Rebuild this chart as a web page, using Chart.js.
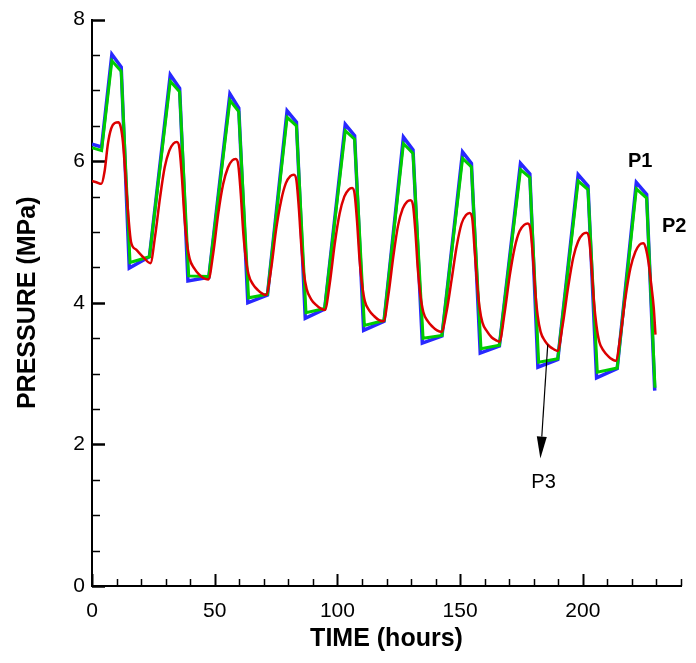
<!DOCTYPE html>
<html>
<head>
<meta charset="utf-8">
<script src="https://cdn.jsdelivr.net/npm/chart.js@4.4.1/dist/chart.umd.min.js"></script>
<style>
    html, body { margin: 0; padding: 0; background: #fff; }
    #contenedor { width: 696px; height: 663px; }
</style>
</head>
<body>
<div id="contenedor"><canvas id="graficoPresion" width="696" height="663"></canvas></div>
<script>
// Serie P1 (azul)
const tiempoP1 = [0, 3.9, 8.1, 11.9, 15.2, 23.4, 31.9, 35.7, 39.1, 47.6, 56.2, 59.8, 63.5, 71.5,
    79.5, 83.3, 86.9, 94.8, 103.2, 107.0, 110.7, 119.0, 126.9, 130.8, 134.6, 142.6, 151.0, 154.6,
    158.2, 166.0, 174.6, 178.4, 181.7, 189.8, 198.1, 202.1, 205.6, 214.0, 221.8, 226.0, 229.3];
const presionP1 = [6.24, 6.20, 7.51, 7.33, 4.49, 4.65, 7.22, 7.03, 4.31, 4.36, 6.95, 6.75, 4.00, 4.11,
    6.71, 6.55, 3.78, 3.91, 6.52, 6.36, 3.61, 3.74, 6.34, 6.16, 3.43, 3.53, 6.13, 5.97,
    3.29, 3.39, 5.97, 5.82, 3.09, 3.20, 5.81, 5.65, 2.94, 3.07, 5.70, 5.53, 2.76];

// Serie P2 (verde)
const tiempoP2 = [0, 3.9, 8.1, 11.9, 15.5, 23.4, 31.9, 35.7, 39.4, 47.6, 56.2, 59.8, 63.8, 71.5,
    79.5, 83.3, 87.2, 94.8, 103.2, 107.0, 111.0, 119.0, 126.9, 130.8, 134.9, 142.6, 151.0, 154.6,
    158.5, 166.0, 174.6, 178.4, 182.0, 189.8, 198.1, 202.1, 205.9, 214.0, 221.8, 226.0, 229.4];
const presionP2 = [6.19, 6.15, 7.42, 7.27, 4.57, 4.65, 7.13, 6.98, 4.38, 4.37, 6.86, 6.70, 4.07, 4.12,
    6.62, 6.50, 3.86, 3.92, 6.43, 6.31, 3.68, 3.75, 6.25, 6.11, 3.50, 3.54, 6.04, 5.92,
    3.35, 3.40, 5.88, 5.77, 3.16, 3.21, 5.72, 5.60, 3.02, 3.08, 5.61, 5.48, 2.80];

// Serie P3 (roja)
const tiempoP3 = [0, 2.0, 3.8, 5.1, 6.5, 7.8, 9.3, 10.8, 11.8, 12.6, 13.9, 14.9, 15.9, 18.0, 21.0, 23.8,
    25.7, 27.7, 29.6, 31.5, 33.2, 34.6, 35.6, 36.6, 37.6, 38.6, 39.8, 41.6, 43.6, 45.4, 47.4,
    49.4, 51.4, 53.4, 55.4, 57.1, 58.6, 59.6, 60.6, 61.6, 62.6, 63.8, 65.6, 67.6, 69.4, 70.9,
    73.0, 75.0, 77.1, 79.0, 80.8, 82.3, 83.3, 84.3, 85.3, 86.3, 87.5, 89.3, 91.3, 93.1, 94.9,
    96.9, 98.9, 100.9, 102.8, 104.6, 106.0, 107.0, 108.0, 109.0, 110.0, 111.2, 113.0, 115.0, 116.8, 118.8,
    120.8, 122.8, 124.7, 126.6, 128.4, 129.8, 130.8, 131.8, 132.8, 133.8, 135.0, 136.8, 138.8, 140.6, 142.4,
    144.5, 146.5, 148.6, 150.6, 152.4, 153.9, 154.9, 155.9, 156.9, 157.9, 159.1, 160.9, 162.9, 164.7, 166.0,
    168.1, 170.2, 172.3, 174.2, 176.1, 177.6, 178.6, 179.6, 180.6, 181.6, 182.8, 184.6, 186.6, 188.4, 189.7,
    191.8, 194.0, 196.1, 198.1, 200.0, 201.5, 202.5, 203.5, 204.5, 205.5, 206.7, 208.5, 210.5, 212.0, 213.4,
    215.4, 217.4, 219.4, 221.4, 223.1, 224.6, 225.6, 226.9, 228.0, 228.9, 229.6];
const presionP3 = [5.72, 5.70, 5.68, 5.85, 6.25, 6.46, 6.54, 6.55, 6.47, 6.27, 5.66, 5.19, 4.86, 4.75, 4.64, 4.56,
    4.94, 5.48, 5.91, 6.15, 6.25, 6.27, 6.19, 5.79, 5.24, 4.87, 4.62, 4.49, 4.40, 4.35, 4.33,
    4.70, 5.25, 5.67, 5.91, 6.01, 6.03, 5.95, 5.55, 5.01, 4.65, 4.40, 4.26, 4.18, 4.13, 4.11,
    4.48, 5.03, 5.45, 5.69, 5.79, 5.81, 5.73, 5.33, 4.80, 4.43, 4.19, 4.05, 3.97, 3.92, 3.90,
    4.28, 4.83, 5.26, 5.50, 5.60, 5.62, 5.54, 5.15, 4.62, 4.27, 4.02, 3.89, 3.81, 3.76, 3.74,
    4.12, 4.66, 5.09, 5.33, 5.43, 5.45, 5.38, 4.99, 4.46, 4.11, 3.87, 3.74, 3.66, 3.61, 3.59,
    3.88, 4.32, 4.80, 5.12, 5.24, 5.27, 5.20, 4.75, 4.28, 3.94, 3.72, 3.60, 3.51, 3.47, 3.45,
    3.85, 4.38, 4.79, 5.01, 5.10, 5.12, 5.05, 4.67, 4.17, 3.82, 3.59, 3.46, 3.38, 3.34, 3.32,
    3.69, 4.22, 4.64, 4.87, 4.97, 4.99, 4.92, 4.54, 4.03, 3.69, 3.45, 3.32, 3.24, 3.20, 3.18,
    3.55, 4.08, 4.49, 4.72, 4.82, 4.84, 4.78, 4.54, 4.22, 3.93, 3.55];

// Ejes
const ticksX = [0, 50, 100, 150, 200];
const ticksY = [0, 2, 4, 6, 8];
const maxX = 240;
const maxY = 8;
const pasoMenorX = 10;
const pasoMenorY = 0.5;

// Rotulos y flecha (en unidades de datos)
const rotulos = [
    {texto: "P1", x: 223.4, y: 5.99, negrita: true},
    {texto: "P2", x: 237.2, y: 5.08, negrita: true},
    {texto: "P3", x: 184.0, y: 1.46, negrita: false}
];
const flechaP3 = {desde: [185.7, 3.41], hasta: [182.7, 1.80]};

const fuente = "'Liberation Sans', Arial, sans-serif";

function armarPuntos(tiempos, valores) {
    return tiempos.map((t, i) => ({x: t, y: valores[i]}));
}

// Marcas de los ejes hacia adentro
const marcasEjes = {
    id: "marcasEjes",
    beforeDatasetsDraw(chart) {
        const {ctx, scales: {x, y}} = chart;
        const baseY = y.getPixelForValue(0);
        const baseX = x.getPixelForValue(0);
        ctx.save();
        ctx.strokeStyle = "#000";
        for (let i = 0; i * pasoMenorX <= maxX; i++) {
            const v = i * pasoMenorX;
            const mayor = ticksX.includes(v);
            const px = Math.round(x.getPixelForValue(v)) + 0.5;
            ctx.lineWidth = mayor ? 2 : 1.5;
            ctx.beginPath();
            ctx.moveTo(px, baseY);
            ctx.lineTo(px, baseY - (mayor ? 12 : 7));
            ctx.stroke();
        }
        for (let i = 0; i * pasoMenorY <= maxY; i++) {
            const v = i * pasoMenorY;
            const mayor = ticksY.includes(v);
            const py = Math.round(y.getPixelForValue(v)) + 0.5;
            ctx.lineWidth = mayor ? 2.5 : 1.5;
            ctx.beginPath();
            ctx.moveTo(baseX, py);
            ctx.lineTo(baseX + (mayor ? 13 : 8), py);
            ctx.stroke();
        }
        ctx.restore();
    }
};

// Rotulos P1, P2, P3 y flecha
const anotaciones = {
    id: "anotaciones",
    afterDatasetsDraw(chart) {
        const {ctx, scales: {x, y}} = chart;
        ctx.save();
        ctx.fillStyle = "#000";
        ctx.textAlign = "center";
        ctx.textBaseline = "middle";
        rotulos.forEach(r => {
            ctx.font = (r.negrita ? "bold 20px " : "20px ") + fuente;
            ctx.fillText(r.texto, x.getPixelForValue(r.x), y.getPixelForValue(r.y));
        });

        const x0 = x.getPixelForValue(flechaP3.desde[0]);
        const y0 = y.getPixelForValue(flechaP3.desde[1]);
        const x1 = x.getPixelForValue(flechaP3.hasta[0]);
        const y1 = y.getPixelForValue(flechaP3.hasta[1]);
        const ang = Math.atan2(y1 - y0, x1 - x0);
        const largo = 22, ancho = 5;
        const bx = x1 - largo * Math.cos(ang);
        const by = y1 - largo * Math.sin(ang);
        ctx.strokeStyle = "#000";
        ctx.lineWidth = 1.2;
        ctx.beginPath();
        ctx.moveTo(x0, y0);
        ctx.lineTo(bx, by);
        ctx.stroke();
        ctx.beginPath();
        ctx.moveTo(x1, y1);
        ctx.lineTo(bx + ancho * Math.sin(ang), by - ancho * Math.cos(ang));
        ctx.lineTo(bx - ancho * Math.sin(ang), by + ancho * Math.cos(ang));
        ctx.closePath();
        ctx.fill();
        ctx.restore();
    }
};

document.addEventListener("DOMContentLoaded", function () {
    new Chart(document.getElementById("graficoPresion"), {
        type: "line",
        data: {
            datasets: [
                {
                    label: "P1",
                    data: armarPuntos(tiempoP1, presionP1),
                    borderColor: "rgb(40, 40, 255)",
                    borderWidth: 3.5,
                    pointRadius: 0,
                    tension: 0,
                    order: 3
                },
                {
                    label: "P2",
                    data: armarPuntos(tiempoP2, presionP2),
                    borderColor: "rgb(0, 205, 0)",
                    borderWidth: 3,
                    pointRadius: 0,
                    tension: 0,
                    order: 2
                },
                {
                    label: "P3",
                    data: armarPuntos(tiempoP3, presionP3),
                    borderColor: "rgb(220, 0, 0)",
                    borderWidth: 2.5,
                    pointRadius: 0,
                    cubicInterpolationMode: "monotone",
                    order: 1
                }
            ]
        },
        options: {
            responsive: false,
            animation: false,
            devicePixelRatio: 1,
            layout: {padding: {top: 17, right: 15, left: 0, bottom: 0}},
            plugins: {legend: {display: false}, tooltip: {enabled: false}},
            scales: {
                x: {
                    type: "linear",
                    min: 0,
                    max: maxX,
                    afterFit: s => { s.height = 77; },
                    grid: {display: false, drawTicks: false},
                    border: {display: true, color: "#000", width: 2},
                    ticks: {
                        stepSize: 50,
                        padding: 13,
                        color: "#000",
                        font: {family: fuente, size: 21},
                        callback: v => ticksX.includes(v) ? String(v) : ""
                    },
                    title: {
                        display: true,
                        text: "TIME (hours)",
                        color: "#000",
                        font: {family: fuente, size: 25, weight: "bold"},
                        padding: {top: 0, bottom: 9}
                    }
                },
                y: {
                    min: 0,
                    max: maxY,
                    afterFit: s => { s.width = 92; },
                    grid: {display: false, drawTicks: false},
                    border: {display: true, color: "#000", width: 2},
                    ticks: {
                        stepSize: 2,
                        padding: 7,
                        color: "#000",
                        font: {family: fuente, size: 21}
                    },
                    title: {
                        display: true,
                        text: "PRESSURE (MPa)",
                        color: "#000",
                        font: {family: fuente, size: 25, weight: "bold"},
                        padding: {top: 13, bottom: 0}
                    }
                }
            }
        },
        plugins: [marcasEjes, anotaciones]
    });
});
</script>
</body>
</html>
